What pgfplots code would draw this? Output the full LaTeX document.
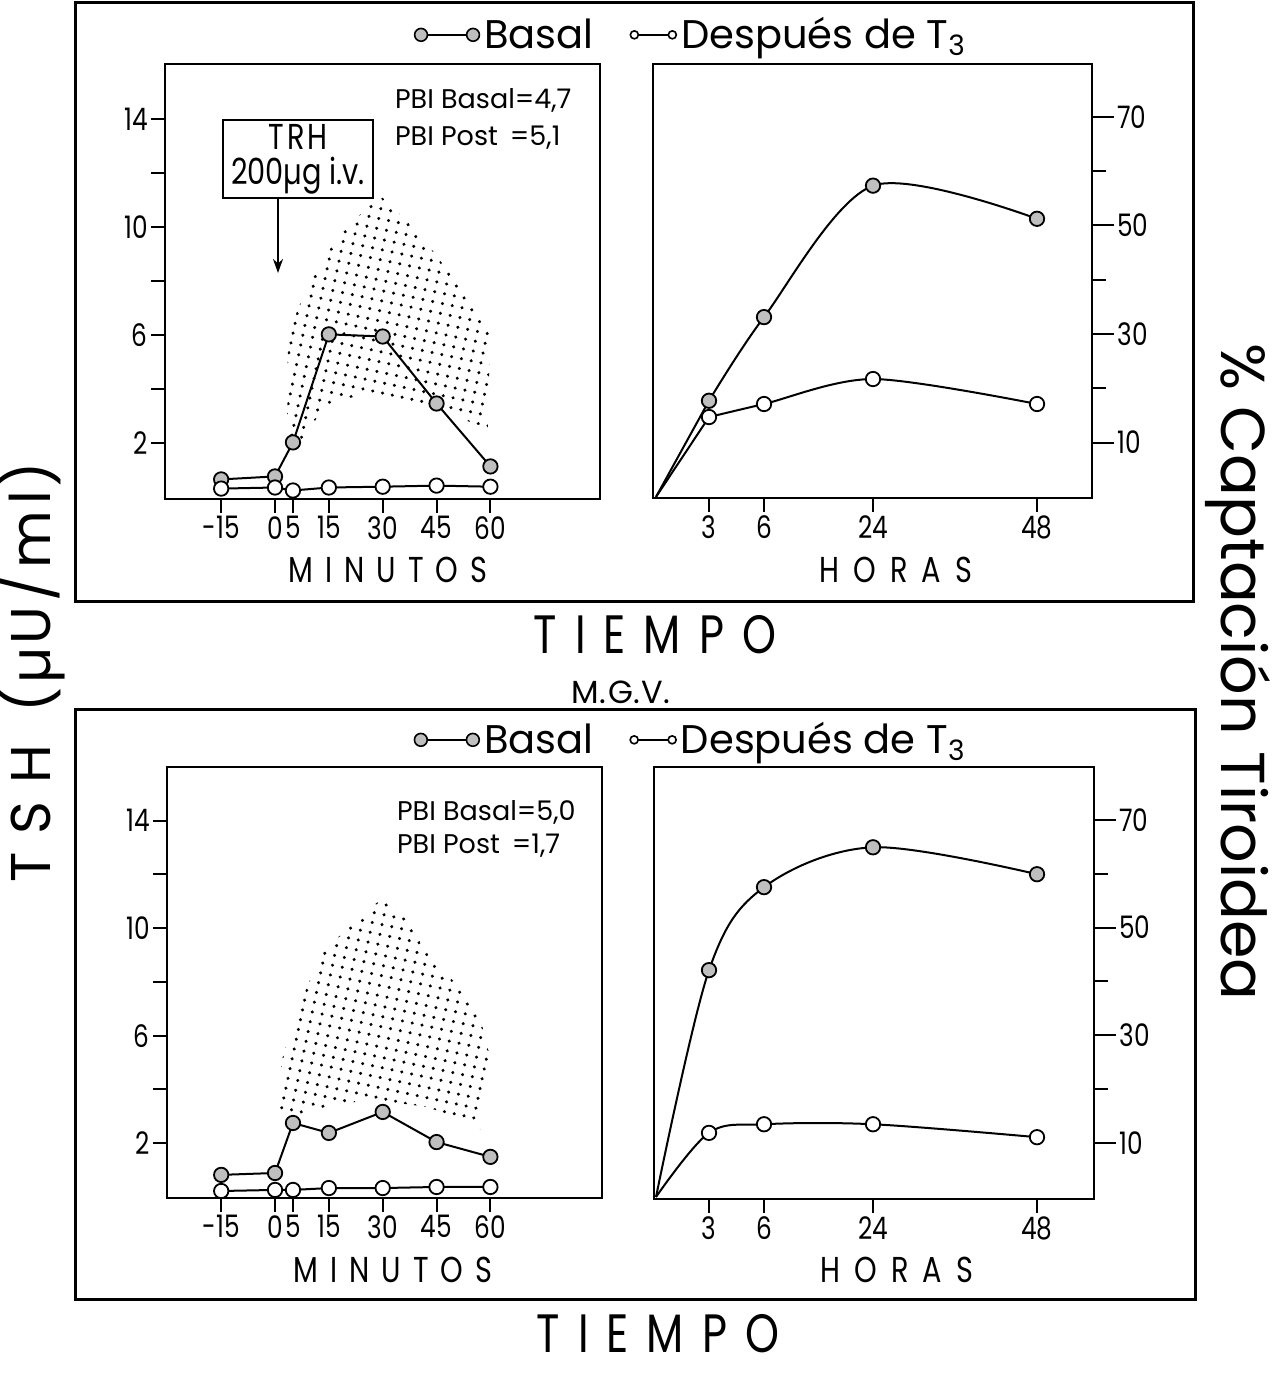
\documentclass[border=0pt]{standalone}
\usepackage{fontspec}
\setmainfont{Poppins}
\newfontfamily\cond{Poppins}[FakeStretch=0.8]
\usepackage{pgfplots}
\pgfplotsset{compat=1.18}
\usepackage{pgfplotstable}
\usetikzlibrary{patterns.meta,arrows.meta}

% ---- data: TSH (microU/ml) after TRH, minutes ----
\pgfplotstableread{
min basal post
-15 0.67 0.33
0   0.78 0.37
5   2.04 0.26
15  6.04 0.37
30  5.96 0.40
45  3.48 0.44
60  1.15 0.40
}\tsha
\pgfplotstableread{
min basal post
-15 0.82 0.22
0   0.89 0.26
5   2.75 0.26
15  2.38 0.33
30  3.16 0.33
45  2.04 0.37
60  1.49 0.37
}\tshb
% ---- data: % captacion tiroidea, hours (pos = position on the drawn axis) ----
\pgfplotstableread{
h  pos basal post
0  0   0    0
3  53  17.7 14.7
6  108 33.1 17.1
24 217 57.3 21.7
48 381 51.2 17.1
}\capa
\pgfplotstableread{
h  pos basal post
0  0   0    0
3  53  42.1 11.9
6  108 57.5 13.5
24 217 64.9 13.5
48 381 59.9 11.1
}\capb

\pgfplotsset{
  panel/.style={scale only axis, clip=false, anchor=south west,
    axis line style={line width=1.3pt},
    tick align=outside, major tick length=7pt,
    every tick/.style={black, line width=1pt},
    ticklabel style={font=\cond\fontsize{15.5}{16}\selectfont, inner sep=1.5pt},
    xtick pos=left},
  basal/.style={black, line width=1pt, mark=*, mark size=3.6pt,
    mark options={fill=gray!50, draw=black, line width=0.9pt}},
  post/.style={black, line width=1pt, mark=*, mark size=3.6pt,
    mark options={fill=white, draw=black, line width=0.9pt}},
  dotfill/.style={draw=none, forget plot, pattern={Dots[distance=5pt, radius=0.85pt, angle=-12]}},
  legbasal/.style={legend image code/.code={
      \draw[black, line width=1pt] (0pt,0pt) -- (26pt,0pt);
      \draw[black, fill=gray!50, line width=0.8pt] (0pt,0pt) circle (3.2pt) (26pt,0pt) circle (3.2pt);}},
  legpost/.style={legend image code/.code={
      \draw[black, line width=1pt] (0pt,0pt) -- (19pt,0pt);
      \draw[black, fill=white, line width=0.8pt] (0pt,0pt) circle (2pt) (19pt,0pt) circle (2pt);}},
  legsty/.style={legend columns=2,
    legend style={draw=none, fill=none, at={(1.211,1.067)}, anchor=center,
      font=\fontsize{20}{20}\selectfont,
      /tikz/every even column/.append style={column sep=16pt}}},
}

\begin{document}
\begin{tikzpicture}
\useasboundingbox (0,0) rectangle (635.5pt,687.5pt);

% outer frames
\draw[line width=1.5pt] (37.5pt,386.5pt) rectangle (596.5pt,686pt);
\draw[line width=1.5pt] (37.5pt,37.5pt) rectangle (597.5pt,332.5pt);

% ================= top left =================
\begin{axis}[panel, at={(82.5pt,438pt)}, width=217.5pt, height=217.5pt,
  xmin=-30.64, xmax=90.53, ymin=-0.055, ymax=16.05,
  xtick={-15,0,5,15,30,45,60}, xticklabels={-15,0,5,15,30,45,60},
  ytick={2,4,6,8,10,12,14}, yticklabels={2,,6,,10,,14}, ytick pos=left,
  legsty]
\addplot[dotfill] coordinates {(3.3,1.74) (3.6,6.07) (8.9,7.78) (17.3,9.63) (29.2,11.19)
  (39.6,9.89) (48.7,8.30) (59.9,6.30) (59.3,2.56) (43.2,3.33) (24.5,3.85) (13.4,3.33) (6.1,1.74)} -- cycle;
\addplot[basal, legbasal] table[x=min, y=basal] {\tsha};
\addlegendentry{Basal}
\addplot[post, legpost] table[x=min, y=post] {\tsha};
\addlegendentry{Después de T\textsubscript{3}}
\end{axis}

% ================= top right =================
\begin{axis}[panel, at={(326.5pt,438.5pt)}, width=219.5pt, height=217pt,
  xmin=-3, xmax=436, ymin=-0.2, ymax=79.7,
  xtick={53,108,217,381}, xticklabels={3,6,24,48},
  ytick pos=right, yticklabel pos=right,
  ytick={20,40,60}, yticklabels={},
  extra y ticks={10,30,50,70}, extra y tick labels={10,30,50,70},
  extra y tick style={major tick length=11pt}]
\addplot[black, line width=1pt, forget plot, skip coords between index={2}{5}] table[x=pos, y=basal] {\capa};
\addplot[black, line width=1pt, forget plot, skip coords between index={2}{5}] table[x=pos, y=post] {\capa};
\addplot[basal, smooth, skip coords between index={0}{1}] table[x=pos, y=basal] {\capa};
\addplot[post, smooth, skip coords between index={0}{1}] table[x=pos, y=post] {\capa};
\end{axis}

% ================= bottom left =================
\begin{axis}[panel, at={(83.5pt,88.5pt)}, width=217.5pt, height=215.5pt,
  xmin=-30.1, xmax=91.1, ymin=-0.04, ymax=15.99,
  xtick={-15,0,5,15,30,45,60}, xticklabels={-15,0,5,15,30,45,60},
  ytick={2,4,6,8,10,12,14}, yticklabels={2,,6,,10,,14}, ytick pos=left,
  legsty, legend style={at={(1.206,1.063)}}]
\addplot[dotfill] coordinates {(0.8,3.12) (1.9,5.09) (5.0,6.47) (8.9,7.81) (13.4,9.18) (20.9,10.04)
  (30.1,11.15) (36.8,10.30) (42.3,9.07) (48.7,8.18) (53.5,7.43) (57.1,6.69) (59.9,5.20)
  (57.1,2.49) (50.7,2.94) (42.3,3.35) (32.0,3.53) (20.9,3.53) (11.7,3.23) (6.1,3.05)} -- cycle;
\addplot[basal, legbasal] table[x=min, y=basal] {\tshb};
\addlegendentry{Basal}
\addplot[post, legpost] table[x=min, y=post] {\tshb};
\addlegendentry{Después de T\textsubscript{3}}
\end{axis}

% ================= bottom right =================
\begin{axis}[panel, at={(327pt,88pt)}, width=220pt, height=216pt,
  xmin=-2, xmax=438, ymin=-0.37, ymax=79.8,
  xtick={53,108,217,381}, xticklabels={3,6,24,48},
  ytick pos=right, yticklabel pos=right,
  ytick={20,40,60}, yticklabels={},
  extra y ticks={10,30,50,70}, extra y tick labels={10,30,50,70},
  extra y tick style={major tick length=11pt}]
\addplot[black, line width=1pt, smooth, tension=0.55, forget plot] table[x=pos, y=basal] {\capb};
\addplot[black, line width=1pt, smooth, tension=0.55, forget plot] table[x=pos, y=post] {\capb};
\addplot[basal, only marks, skip coords between index={0}{1}] table[x=pos, y=basal] {\capb};
\addplot[post, only marks, skip coords between index={0}{1}] table[x=pos, y=post] {\capb};
\end{axis}

% ---- texts ----
\node[anchor=west, font=\fontsize{13.5}{14}\selectfont] at (194pt,637.5pt) {PBI Basal=4,7};
\node[anchor=west, font=\fontsize{13.5}{14}\selectfont] at (194pt,618.5pt) {PBI Post\hspace{6pt}=5,1};
\node[anchor=west, font=\fontsize{13.5}{14}\selectfont] at (195pt,281.5pt) {PBI Basal=5,0};
\node[anchor=west, font=\fontsize{13.5}{14}\selectfont] at (195pt,264.5pt) {PBI Post\hspace{6pt}=1,7};

\node[draw, line width=1pt, minimum width=75pt, minimum height=39pt, inner sep=0pt, align=center,
  font=\cond\fontsize{18}{17.5}\selectfont] at (149pt,608pt) {T\hspace{1.5pt}R\hspace{1.5pt}H\\200µg i.v.};
\draw[line width=1pt, -{Stealth[length=7pt,width=5pt]}] (139pt,588.5pt) -- (139pt,551pt);

\node[font=\cond\fontsize{18}{18}\selectfont] at (194pt,402.5pt)
  {M\hspace{6pt}I\hspace{6pt}N\hspace{6pt}U\hspace{6pt}T\hspace{6pt}O\hspace{6pt}S};
\node[font=\cond\fontsize{18}{18}\selectfont] at (448pt,402.5pt)
  {H\hspace{7pt}O\hspace{7pt}R\hspace{7pt}A\hspace{7pt}S};
\node[font=\cond\fontsize{18}{18}\selectfont] at (196.5pt,52.5pt)
  {M\hspace{6pt}I\hspace{6pt}N\hspace{6pt}U\hspace{6pt}T\hspace{6pt}O\hspace{6pt}S};
\node[font=\cond\fontsize{18}{18}\selectfont] at (448.5pt,52.5pt)
  {H\hspace{7pt}O\hspace{7pt}R\hspace{7pt}A\hspace{7pt}S};

\node[font=\cond\fontsize{27}{27}\selectfont] at (327.5pt,370pt)
  {T\hspace{9pt}I\hspace{9pt}E\hspace{9pt}M\hspace{9pt}P\hspace{9pt}O};
\node[font=\cond\fontsize{27}{27}\selectfont, inner sep=0pt] at (329pt,20.5pt)
  {T\hspace{9pt}I\hspace{9pt}E\hspace{9pt}M\hspace{9pt}P\hspace{9pt}O};
\node[font=\fontsize{16}{16}\selectfont] at (310.5pt,341.5pt) {M.\hspace{1pt}G.\hspace{1pt}V.};

\node[rotate=90, font=\fontsize{28}{28}\selectfont] at (15.5pt,351.5pt)
  {T\hspace{9pt}S\hspace{9pt}H\hspace{16pt}(\hspace{2pt}µ\hspace{1pt}U\hspace{3pt}/\hspace{3pt}m\hspace{3pt}l\hspace{2pt})};
\node[rotate=-90, font=\fontsize{31}{31}\selectfont] at (619pt,351.5pt)
  {\% Captación Tiroidea};
\end{tikzpicture}
\end{document}
